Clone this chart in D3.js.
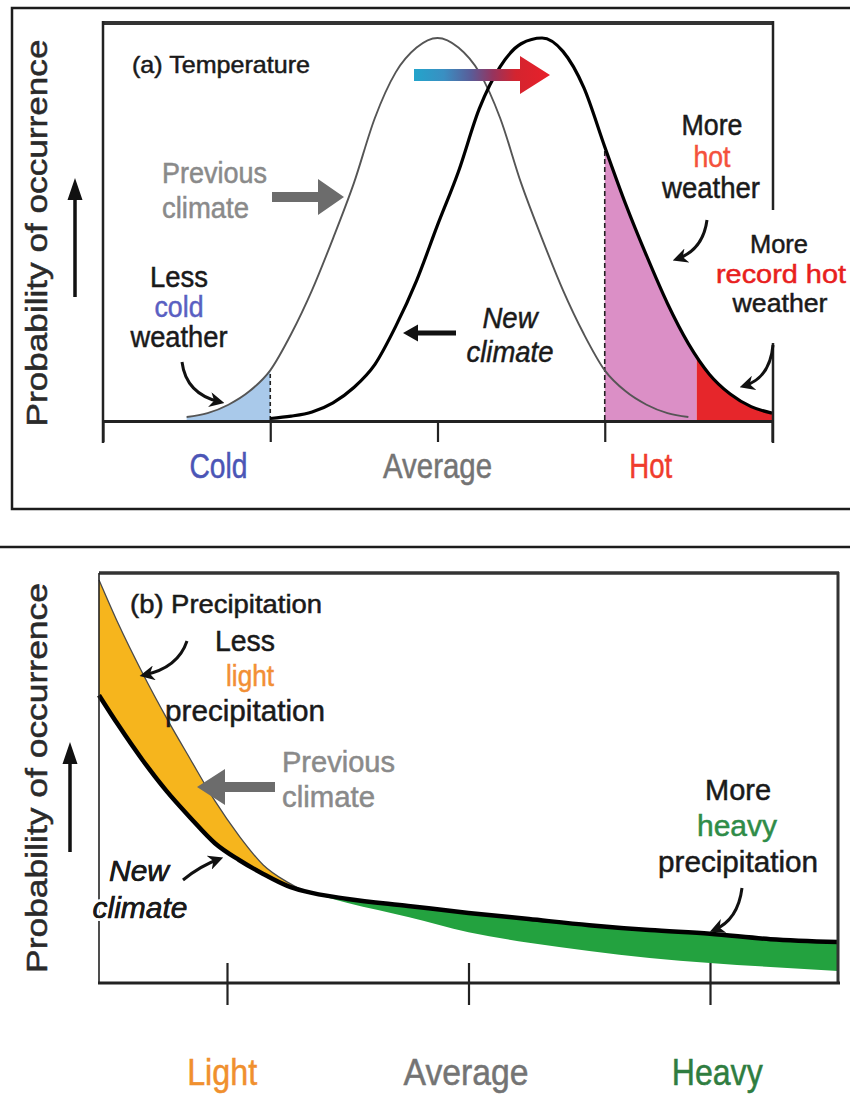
<!DOCTYPE html>
<html>
<head>
<meta charset="utf-8">
<script src="https://cdn.jsdelivr.net/npm/d3@7"></script>
<style>
  body { margin: 0; background: #fff; }
  svg text { font-family: "Liberation Sans", Arial, Helvetica, sans-serif; }
</style>
</head>
<body>
<svg id="chart" width="850" height="1101"></svg>
<script>
// ---- panel (a) : temperature distributions (relative probability) ----
var tempPrevX = [1.0, 1.25, 1.5, 1.75, 2.0, 2.25, 2.5, 2.75, 3.0, 3.25, 3.5, 3.75, 4.0,
                 4.25, 4.5, 4.75, 5.0, 5.25, 5.5, 5.75, 6.0, 6.25, 6.5, 6.75, 7.0];
var tempPrevY = [0.008, 0.018, 0.04, 0.075, 0.13, 0.225, 0.34, 0.475, 0.62, 0.79, 0.91, 0.975, 1.0,
                 0.975, 0.91, 0.79, 0.62, 0.475, 0.34, 0.225, 0.13, 0.075, 0.04, 0.018, 0.008];
var tempNewX = [2.0, 2.25, 2.5, 2.75, 3.0, 3.25, 3.5, 3.75, 4.0, 4.25, 4.5, 4.75, 5.0,
                5.25, 5.5, 5.75, 6.0, 6.25, 6.5, 6.75, 7.0, 7.25, 7.5, 7.75, 8.0];
var tempNewY = [0.004, 0.01, 0.021, 0.045, 0.085, 0.145, 0.245, 0.365, 0.51, 0.65, 0.815, 0.925, 0.985,
                1.0, 0.965, 0.87, 0.715, 0.565, 0.43, 0.305, 0.2, 0.12, 0.068, 0.035, 0.018];
var tempTicks = [0, 2, 4, 6, 8];
var tempLabels = ["Cold", "Average", "Hot"];
var tempLabelAt = [1.38, 4.0, 6.55];
var tempLabelColors = ["#4b55b6", "#747474", "#f03c2c"];
var coldLimit = 2.0, hotLimit = 6.0, recordLimit = 7.1;

// ---- panel (b) : precipitation distributions ----
var precipX = [0.47, 0.55, 0.65, 0.75, 0.85, 0.95, 1.05, 1.15, 1.25, 1.32,
               1.5, 1.75, 2.0, 2.25, 2.5, 2.75, 3.0, 3.25, 3.53];
var precipPrev = [0.983, 0.876, 0.756, 0.646, 0.544, 0.444, 0.359, 0.288, 0.246, 0.224,
                  0.195, 0.161, 0.124, 0.098, 0.078, 0.061, 0.049, 0.039, 0.029];
var precipNew = [0.702, 0.629, 0.544, 0.468, 0.402, 0.341, 0.300, 0.266, 0.237, 0.224,
                 0.205, 0.188, 0.171, 0.156, 0.141, 0.129, 0.120, 0.107, 0.100];
var precipTicks = [1, 2, 3];
var precipLabels = ["Light", "Average", "Heavy"];
var precipLabelAt = [0.98, 1.99, 3.03];
var precipLabelColors = ["#f0902e", "#747474", "#2f7d40"];
var crossX = 1.32;

var svg = d3.select("#chart");
var defs = svg.append("defs");

// small barbed head for the curved pointer arrows
defs.append("marker")
    .attr("id", "barb")
    .attr("viewBox", "0 0 10 10")
    .attr("refX", 7).attr("refY", 5)
    .attr("markerWidth", 5).attr("markerHeight", 5)
    .attr("orient", "auto")
    .append("path")
    .attr("d", "M0,0 L10,5 L0,10 L3,5 z")
    .attr("fill", "#111");

var grad = defs.append("linearGradient").attr("id", "shift")
    .attr("x1", "0%").attr("x2", "100%").attr("y1", "0%").attr("y2", "0%");
[["0%", "#23a4cb"], ["22%", "#3a8fc2"], ["42%", "#5a5c98"], ["58%", "#96345e"],
 ["75%", "#d4242f"], ["100%", "#e8202a"]].forEach(function (s) {
    grad.append("stop").attr("offset", s[0]).attr("stop-color", s[1]);
});

function addText(g, str, x, y, o) {
    o = o || {};
    var col = o.color || "#1a1a1a";
    var t = g.append("text")
        .attr("x", x).attr("y", y)
        .attr("font-size", o.size || 29)
        .attr("fill", col)
        .attr("text-anchor", o.anchor || "middle")
        .text(str);
    if (o.italic) t.attr("font-style", "italic");
    if (o.w) t.attr("textLength", o.w).attr("lengthAdjust", "spacingAndGlyphs");
    if (o.halo) {
        t.attr("stroke", "#fff").attr("stroke-width", 6).attr("paint-order", "stroke");
        // thin outline on top of the halo
        g.append("text").attr("x", x).attr("y", y)
            .attr("font-size", o.size || 29).attr("fill", col)
            .attr("stroke", col).attr("stroke-width", 0.5)
            .attr("text-anchor", o.anchor || "middle")
            .attr("font-style", o.italic ? "italic" : null)
            .attr("textLength", o.w || null)
            .attr("lengthAdjust", o.w ? "spacingAndGlyphs" : null)
            .text(str);
    } else {
        t.attr("stroke", col).attr("stroke-width", 0.5);
    }
    if (o.transform) t.attr("transform", o.transform);
    return t;
}

// block arrow drawn from (x1,y1) to tip (x2,y2)
function blockArrow(g, x1, y1, x2, y2, bar, headLen, headW, fill) {
    var len = Math.hypot(x2 - x1, y2 - y1);
    var ang = Math.atan2(y2 - y1, x2 - x1) * 180 / Math.PI;
    var b = bar / 2, h = headW / 2, s = len - headLen;
    var pts = [[0, -b], [s, -b], [s, -h], [len, 0], [s, h], [s, b], [0, b]];
    g.append("polygon")
        .attr("points", pts.map(function (p) { return p.join(","); }).join(" "))
        .attr("fill", fill)
        .attr("transform", "translate(" + x1 + "," + y1 + ") rotate(" + ang + ")");
}

function curvedArrow(g, x1, y1, cx, cy, x2, y2) {
    g.append("path")
        .attr("d", "M" + x1 + "," + y1 + " Q" + cx + "," + cy + " " + x2 + "," + y2)
        .attr("fill", "none")
        .attr("stroke", "#111")
        .attr("stroke-width", 3)
        .attr("marker-end", "url(#barb)");
}

// ================= PANEL A =================
var gA = svg.append("g");
gA.append("rect").attr("x", 12).attr("y", 8).attr("width", 845).attr("height", 501)
    .attr("fill", "none").attr("stroke", "#1c1c1c").attr("stroke-width", 2.5);

var xa = d3.scaleLinear().domain([0, 8]).range([103, 772]);
var ya = d3.scaleLinear().domain([0, 1]).range([420, 38]);

var prevPts = d3.zip(tempPrevX, tempPrevY);
var newPts = d3.zip(tempNewX, tempNewY);

var areaA = d3.area().x(function (d) { return xa(d[0]); })
    .y0(ya(0)).y1(function (d) { return ya(d[1]); })
    .curve(d3.curveMonotoneX);
var lineA = d3.line().x(function (d) { return xa(d[0]); })
    .y(function (d) { return ya(d[1]); })
    .curve(d3.curveMonotoneX);

function clipX(id, a, b) {
    defs.append("clipPath").attr("id", id).append("rect")
        .attr("x", xa(a)).attr("y", 0).attr("width", xa(b) - xa(a)).attr("height", 1101);
}
clipX("clipCold", 0, coldLimit);
clipX("clipHot", hotLimit, recordLimit);
clipX("clipRecord", recordLimit, 8);

gA.append("path").datum(prevPts).attr("d", areaA).attr("fill", "#a9c9ea").attr("clip-path", "url(#clipCold)");
gA.append("path").datum(newPts).attr("d", areaA).attr("fill", "#db8fc6").attr("clip-path", "url(#clipHot)");
gA.append("path").datum(newPts).attr("d", areaA).attr("fill", "#e6262b").attr("clip-path", "url(#clipRecord)");

// threshold dashes
gA.append("line")
    .attr("x1", xa(coldLimit)).attr("x2", xa(coldLimit))
    .attr("y1", ya(0)).attr("y2", ya(tempPrevY[tempPrevX.indexOf(coldLimit)]))
    .attr("stroke", "#222").attr("stroke-width", 1.6).attr("stroke-dasharray", "4,3");
gA.append("line")
    .attr("x1", xa(hotLimit)).attr("x2", xa(hotLimit))
    .attr("y1", ya(0)).attr("y2", ya(tempNewY[tempNewX.indexOf(hotLimit)]))
    .attr("stroke", "#222").attr("stroke-width", 1.6).attr("stroke-dasharray", "5,3");

gA.append("path").datum(prevPts).attr("d", lineA)
    .attr("fill", "none").attr("stroke", "#555").attr("stroke-width", 1.9);
gA.append("path").datum(newPts).attr("d", lineA)
    .attr("fill", "none").attr("stroke", "#000").attr("stroke-width", 3.2);

// plot box
gA.append("line").attr("x1", 103).attr("x2", 773).attr("y1", 23).attr("y2", 23)
    .attr("stroke", "#333").attr("stroke-width", 4);
gA.append("line").attr("x1", 103).attr("x2", 103).attr("y1", 21).attr("y2", 443)
    .attr("stroke", "#222").attr("stroke-width", 2.5);
gA.append("line").attr("x1", 773).attr("x2", 773).attr("y1", 21).attr("y2", 210)
    .attr("stroke", "#222").attr("stroke-width", 2.5);
gA.append("line").attr("x1", 773).attr("x2", 773).attr("y1", 343).attr("y2", 443)
    .attr("stroke", "#222").attr("stroke-width", 2.5);

var axA = gA.append("g").attr("transform", "translate(0,421)")
    .call(d3.axisBottom(xa).tickValues(tempTicks).tickSize(21).tickSizeOuter(0).tickFormat(""));
axA.select(".domain").attr("stroke", "#222").attr("stroke-width", 3);
axA.selectAll(".tick line").attr("stroke", "#222").attr("stroke-width", 2.2);

var tempLabelW = [58, 109, 43];
tempLabels.forEach(function (s, i) {
    addText(gA, s, xa(tempLabelAt[i]), 478, { size: 35, color: tempLabelColors[i], w: tempLabelW[i] });
});

// y axis label and arrow
addText(gA, "Probability of occurrence", 0, 0,
    { size: 30, color: "#2a2a2a", w: 387, transform: "translate(47,233) rotate(-90)" });
blockArrow(gA, 75, 297, 75, 178, 3.5, 22, 15, "#111");

// annotations
addText(gA, "(a) Temperature", 132, 73, { size: 24, anchor: "start", w: 178 });
blockArrow(gA, 414, 75, 550, 75, 12, 30, 38, "url(#shift)");

addText(gA, "Previous", 162, 183, { anchor: "start", color: "#8a8a8a", w: 105 });
addText(gA, "climate", 162, 218, { anchor: "start", color: "#8a8a8a", w: 87 });
blockArrow(gA, 272, 197, 344, 197, 10, 26, 36, "#6c6c6c");

addText(gA, "Less", 179, 287, { w: 58 });
addText(gA, "cold", 179, 317, { color: "#5a5fc2", w: 49 });
addText(gA, "weather", 179, 347, { w: 97 });
curvedArrow(gA, 182, 362, 186, 394, 220, 402);

addText(gA, "New", 510, 328, { italic: true, w: 55 });
addText(gA, "climate", 510, 362, { italic: true, w: 87 });
blockArrow(gA, 456, 333, 403, 333, 5, 15, 17, "#111");

addText(gA, "More", 712, 135, { w: 61 });
addText(gA, "hot", 712, 167, { color: "#f4513c", w: 37 });
addText(gA, "weather", 711, 198, { w: 98 });
curvedArrow(gA, 707, 220, 703, 250, 677, 259);

addText(gA, "More", 779, 253, { size: 26, w: 58 });
addText(gA, "record hot", 781, 283, { size: 26, color: "#e8201e", w: 130 });
addText(gA, "weather", 780, 312, { size: 26, w: 95 });
curvedArrow(gA, 773, 345, 770, 378, 744, 386);

// ================= PANEL B =================
var gB = svg.append("g");
gB.append("line").attr("x1", 0).attr("x2", 850).attr("y1", 547).attr("y2", 547)
    .attr("stroke", "#1c1c1c").attr("stroke-width", 2.5);

var xb = d3.scaleLinear().domain([0.47, 3.53]).range([99, 838]);
var yb = d3.scaleLinear().domain([0, 1]).range([983, 573]);

var bPts = precipX.map(function (x, i) { return { x: x, prev: precipPrev[i], now: precipNew[i] }; });
var bandB = d3.area().x(function (d) { return xb(d.x); })
    .y0(function (d) { return yb(d.now); })
    .y1(function (d) { return yb(d.prev); })
    .curve(d3.curveMonotoneX);

gB.append("path").datum(bPts.filter(function (d) { return d.x <= crossX; }))
    .attr("d", bandB).attr("fill", "#f6b51d");
gB.append("path").datum(bPts.filter(function (d) { return d.x >= crossX; }))
    .attr("d", bandB).attr("fill", "#23a23f");

var lineB = function (key) {
    return d3.line().x(function (d) { return xb(d.x); })
        .y(function (d) { return yb(d[key]); })
        .curve(d3.curveMonotoneX);
};
gB.append("path").datum(bPts.filter(function (d) { return d.x <= crossX; }))
    .attr("d", lineB("prev")).attr("fill", "none").attr("stroke", "#4a4a4a").attr("stroke-width", 1.3);
gB.append("path").datum(bPts).attr("d", lineB("now"))
    .attr("fill", "none").attr("stroke", "#000").attr("stroke-width", 4.5);

// plot box
gB.append("line").attr("x1", 99).attr("x2", 839).attr("y1", 573).attr("y2", 573)
    .attr("stroke", "#333").attr("stroke-width", 3.5);
gB.append("line").attr("x1", 99).attr("x2", 99).attr("y1", 573).attr("y2", 983)
    .attr("stroke", "#222").attr("stroke-width", 1.6);
gB.append("line").attr("x1", 838).attr("x2", 838).attr("y1", 572).attr("y2", 984)
    .attr("stroke", "#333").attr("stroke-width", 3);
gB.append("line").attr("x1", 98).attr("x2", 840).attr("y1", 983).attr("y2", 983)
    .attr("stroke", "#222").attr("stroke-width", 3);

var axB = gB.append("g").attr("transform", "translate(0,963)")
    .call(d3.axisBottom(xb).tickValues(precipTicks).tickSize(42).tickFormat(""));
axB.select(".domain").remove();
axB.selectAll(".tick line").attr("stroke", "#222").attr("stroke-width", 2.2);

var precipLabelW = [70, 125, 91];
precipLabels.forEach(function (s, i) {
    addText(gB, s, xb(precipLabelAt[i]), 1085, { size: 37, color: precipLabelColors[i], w: precipLabelW[i] });
});

addText(gB, "Probability of occurrence", 0, 0,
    { size: 30, color: "#2a2a2a", w: 390, transform: "translate(47,778) rotate(-90)" });
blockArrow(gB, 70, 852, 70, 742, 3.5, 22, 15, "#111");

// annotations
addText(gB, "(b) Precipitation", 130, 613, { size: 25, anchor: "start", w: 192 });

addText(gB, "Less", 245, 651, { w: 60 });
addText(gB, "light", 250, 686, { color: "#f28f35", w: 48 });
addText(gB, "precipitation", 245, 721, { w: 160 });
curvedArrow(gB, 187, 641, 178, 668, 144, 675);

addText(gB, "Previous", 282, 772, { anchor: "start", color: "#8a8a8a", w: 113 });
addText(gB, "climate", 282, 807, { anchor: "start", color: "#8a8a8a", w: 93 });
blockArrow(gB, 275, 787, 197, 787, 10, 28, 36, "#6c6c6c");

addText(gB, "New", 139, 881, { italic: true, w: 60, halo: true });
addText(gB, "climate", 140, 918, { italic: true, w: 95, halo: true });
curvedArrow(gB, 183, 880, 200, 866, 219, 859);

addText(gB, "More", 738, 800, { w: 66 });
addText(gB, "heavy", 737, 836, { color: "#2f8c48", w: 80 });
addText(gB, "precipitation", 738, 872, { w: 160 });
curvedArrow(gB, 742, 888, 738, 920, 714, 930);
</script>
</body>
</html>
